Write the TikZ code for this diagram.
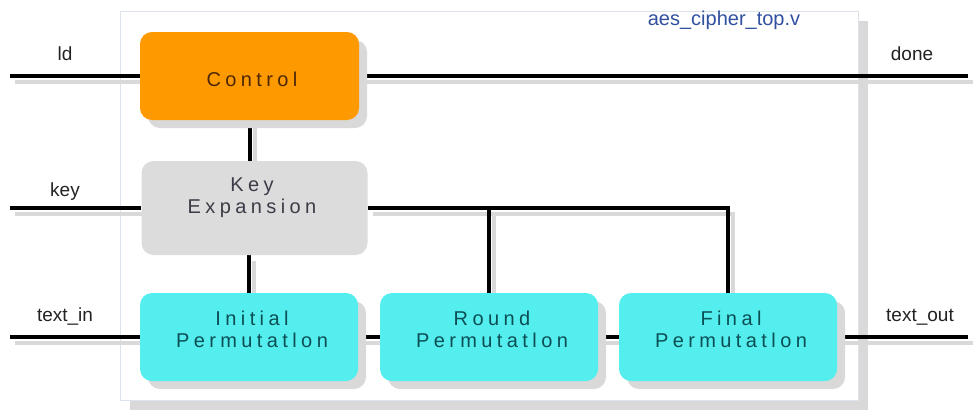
\documentclass[tikz,border=0pt]{standalone}
\usepackage{fontspec}
\setmainfont{Liberation Sans}
\newfontfamily\boxfont[LetterSpace=22]{Liberation Sans}
\usetikzlibrary{shadows}

\definecolor{ctrlfill}{HTML}{FF9900}
\definecolor{ctrltext}{HTML}{4A2806}
\definecolor{keyfill}{HTML}{DCDCDC}
\definecolor{keytext}{HTML}{3C3C48}
\definecolor{permfill}{HTML}{55EEEE}
\definecolor{permtext}{HTML}{0B4F55}
\definecolor{shadegray}{HTML}{D9D9D9}
\definecolor{modborder}{HTML}{DDE3EA}
\definecolor{modtitle}{HTML}{3050A0}
\definecolor{labeltext}{HTML}{222222}

\pgfdeclarelayer{back}
\pgfdeclarelayer{wireshade}
\pgfdeclarelayer{wirelayer}
\pgfsetlayers{back,wireshade,wirelayer,main}

\tikzset{
  block/.style={rounded corners=12pt, inner sep=0pt},
  shadowed/.style={drop shadow={shadow xshift=8pt, shadow yshift=-8pt, fill=shadegray, opacity=1}},
  ctrlbox/.style={block, shadowed, fill=ctrlfill, minimum width=219pt, minimum height=88pt},
  keybox/.style={block, fill=keyfill, minimum width=226pt, minimum height=94pt},
  permbox/.style={block, shadowed, fill=permfill, minimum width=218pt, minimum height=88pt},
  boxtext/.style={font=\boxfont\fontsize{20}{22}\selectfont, align=center, inner sep=0pt},
  portlabel/.style={font=\fontsize{19}{22}\selectfont, text=labeltext, inner sep=0pt, anchor=base},
  wire/.style={line width=4pt, draw=black},
  wireshadow/.style={line width=4pt, draw=shadegray}
}

\newcommand{\wirepaths}[1]{%
  \draw[#1] (ldin) -- (ctrl.west);
  \draw[#1] (ctrl.east) -- (doneout);
  \draw[#1] (keyin) -- (key.west);
  \draw[#1] (txin) -- (init.west);
  \draw[#1] (init.east) -- (round.west);
  \draw[#1] (round.east) -- (final.west);
  \draw[#1] (final.east) -- (txout);
  \draw[#1] (ctrl.south) -- (ctrl.south |- key.north);
  \draw[#1] (init.north |- key.south) -- (init.north);
  \draw[#1] (key.east) -- (final.north |- key.east) -- (final.north);
  \draw[#1] (round.north |- key.east) -- (round.north);
}

\begin{document}
\begin{tikzpicture}[x=1pt,y=-1pt]
\useasboundingbox (0,0) rectangle (973,413);

% module outline with its shadow
\begin{pgfonlayer}{back}
  \fill[shadegray] (130,21) rectangle (868,410);
  \filldraw[fill=white, draw=modborder, line width=0.8pt] (120,11) rectangle (858,400);
\end{pgfonlayer}
\node[font=\fontsize{20}{22}\selectfont, text=modtitle, anchor=base, inner sep=0pt] (title) at (724,25) {aes\_cipher\_top.v};

% blocks
\node[ctrlbox] (ctrl) at (249.5,76) {};
\node[keybox] (key) at (254.5,208) {};
\node[permbox] (init) at (249,337) {};
\node[permbox] (round) at (489,337) {};
\node[permbox] (final) at (728,337) {};

\node[boxtext, text=ctrltext, anchor=base] (ctrlT) at (252,86) {Control};
\node[boxtext, text=keytext] (keyT) at (252,198) {Key\\Expansion};
\node[boxtext, text=permtext] (initT) at (252,329) {Initial\\Permutatlon};
\node[boxtext, text=permtext] (roundT) at (492,329) {Round\\Permutatlon};
\node[boxtext, text=permtext] (finalT) at (731,329) {Final\\Permutatlon};

% port ends
\coordinate (ldin) at (10,76);
\coordinate (keyin) at (10,208);
\coordinate (txin) at (10,337);
\coordinate (doneout) at (968,76);
\coordinate (txout) at (968,337);

% port labels
\node[portlabel] (ldL) at (65,60) {ld};
\node[portlabel] (keyL) at (65,196) {key};
\node[portlabel] (txinL) at (65,321) {text\_in};
\node[portlabel] (doneL) at (912,60) {done};
\node[portlabel] (txoutL) at (920,321) {text\_out};

% connections
\begin{pgfonlayer}{wireshade}
  \begin{scope}[transform canvas={xshift=5pt, yshift=-6pt}]
    \wirepaths{wireshadow}
  \end{scope}
\end{pgfonlayer}
\begin{pgfonlayer}{wirelayer}
  \wirepaths{wire}
\end{pgfonlayer}
\end{tikzpicture}
\end{document}
